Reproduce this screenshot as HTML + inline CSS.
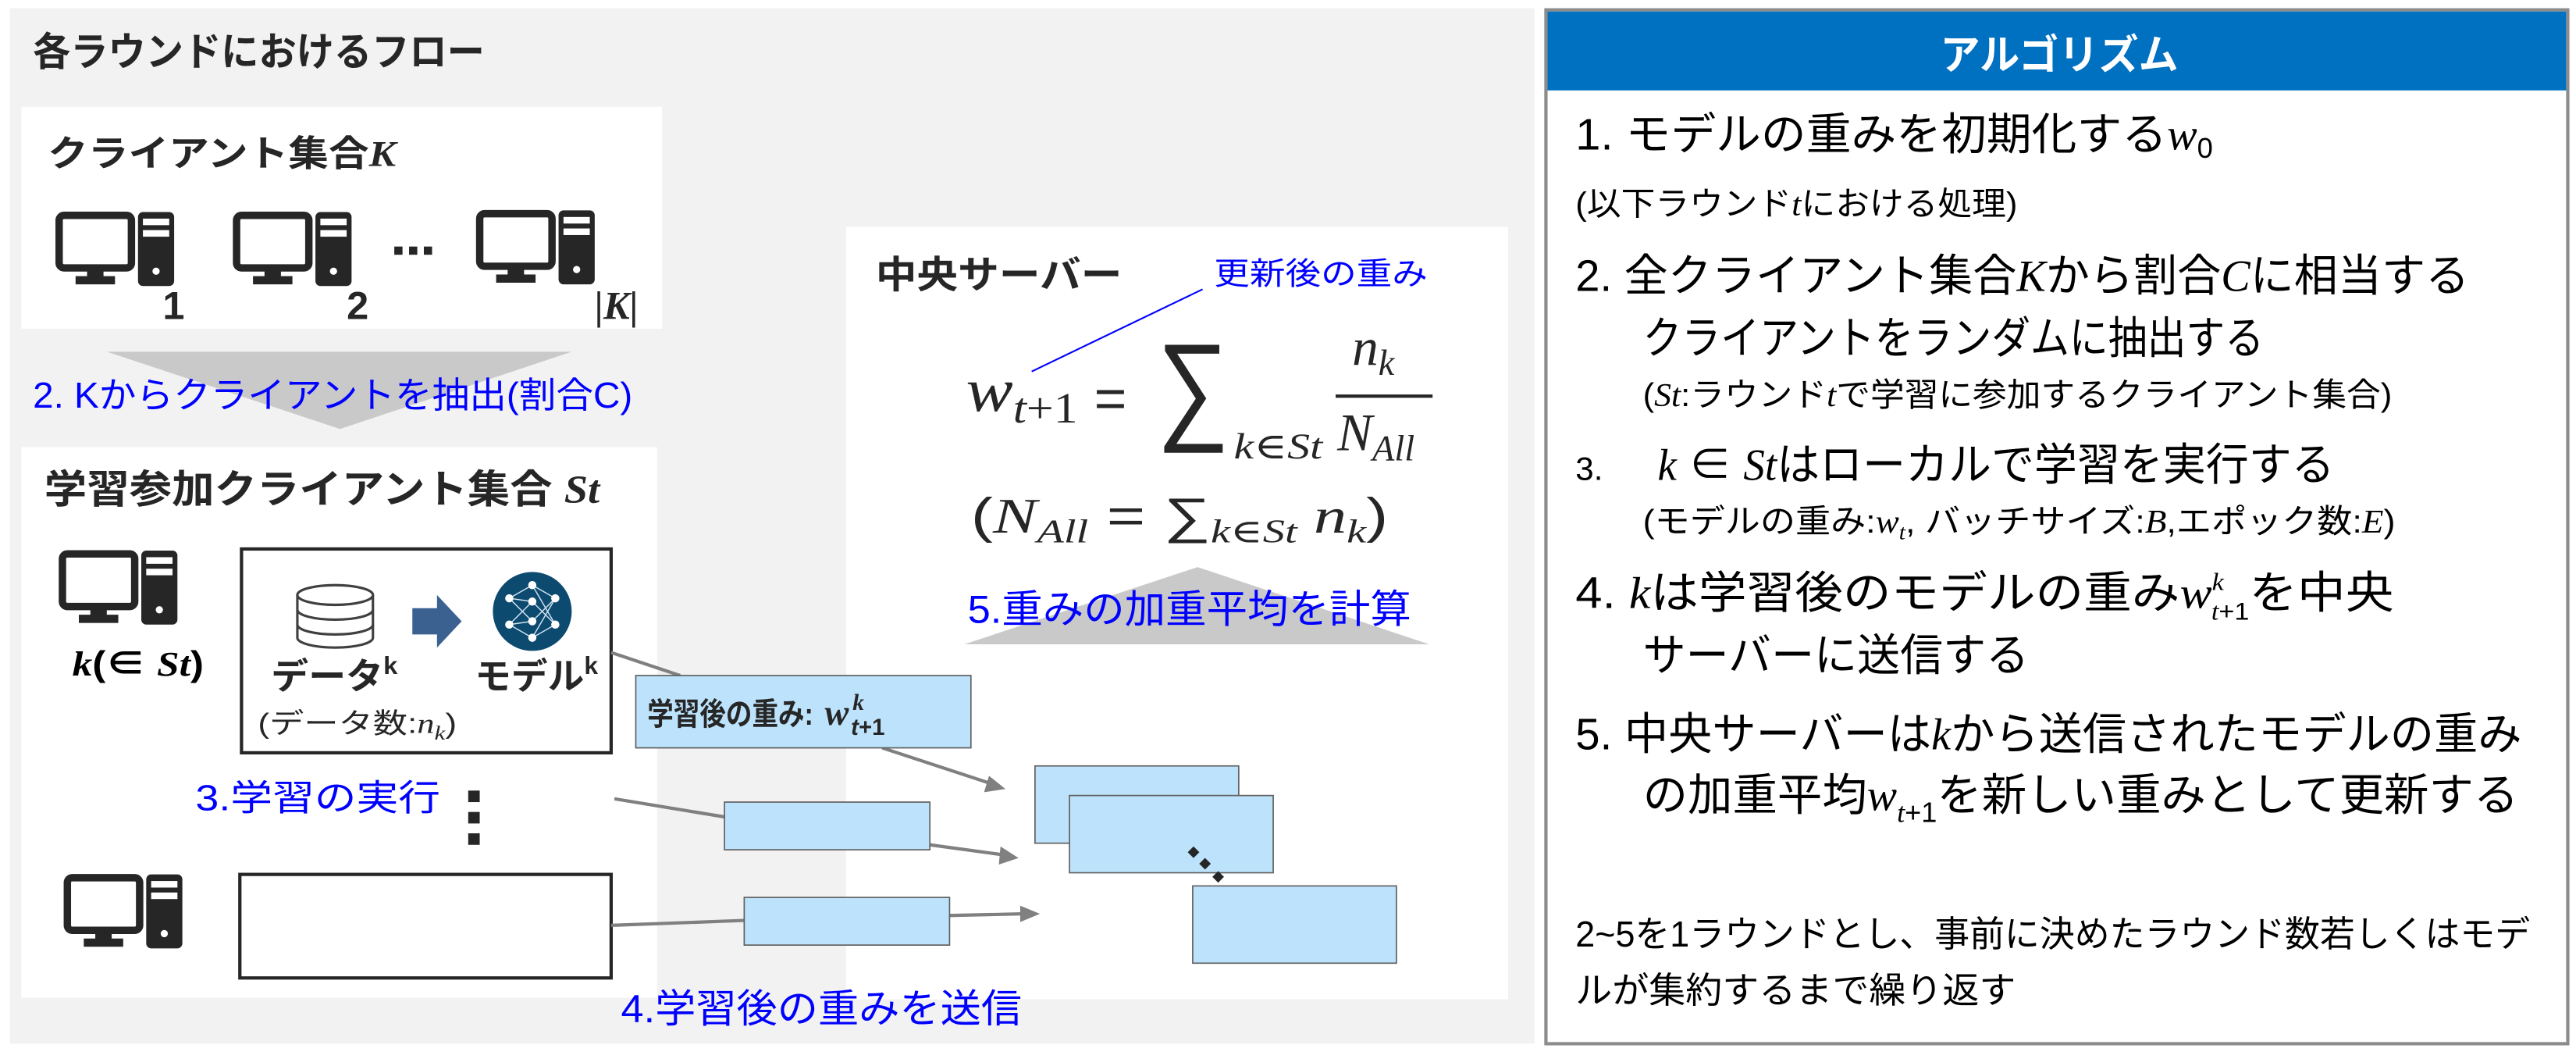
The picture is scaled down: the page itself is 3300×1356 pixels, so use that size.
<!DOCTYPE html>
<html><head><meta charset="utf-8"><style>
html,body{margin:0;padding:0;background:#fff;}
svg{display:block;}
text{font-family:"Liberation Sans","Noto Sans CJK JP",sans-serif;}
.m{font-family:"Liberation Serif","DejaVu Serif",serif;font-style:italic;}
.b{fill:#0000ff;}
</style></head><body>
<svg width="3300" height="1356" viewBox="0 0 1568 644.3" xmlns="http://www.w3.org/2000/svg">
<defs>
<g id="pc">
<rect x="2" y="2" width="44" height="32" rx="3" fill="#fff" stroke="#262626" stroke-width="4.5"/>
<rect x="19" y="35" width="10" height="5" fill="#262626"/>
<rect x="12" y="39" width="24" height="5" fill="#262626"/>
<rect x="50" y="0" width="22" height="45" rx="3" fill="#262626"/>
<rect x="53" y="4" width="16" height="4" fill="#fff"/>
<rect x="53" y="11" width="16" height="4" fill="#fff"/>
<circle cx="61" cy="36" r="2.2" fill="#fff"/>
</g>
</defs>
<rect width="1568" height="644.3" fill="#fff"/>
<rect x="6" y="5" width="928" height="630" fill="#f2f2f2"/>
<text x="20" y="40" font-size="24" font-weight="700" fill="#262626" textLength="275" lengthAdjust="spacingAndGlyphs">各ラウンドにおけるフロー</text>
<rect x="13" y="65" width="390" height="135" fill="#fff"/>
<text x="29" y="101" font-size="22" font-weight="700" fill="#262626" textLength="212" lengthAdjust="spacingAndGlyphs">クライアント集合<tspan class="m" font-weight="700">K</tspan></text>
<use href="#pc" x="34" y="129"/>
<use href="#pc" x="142" y="129"/>
<use href="#pc" x="290" y="128"/>
<rect x="240" y="150" width="5" height="5" fill="#262626"/><rect x="249" y="150" width="5" height="5" fill="#262626"/><rect x="258" y="150" width="5" height="5" fill="#262626"/>
<text x="99" y="194" font-size="24" font-weight="700" font-family="Liberation Serif" fill="#262626">1</text>
<text x="211" y="194" font-size="24" font-weight="700" font-family="Liberation Serif" fill="#262626">2</text>
<text x="362" y="194" font-size="24" font-weight="700" class="m" fill="#262626">|K|</text>
<polygon points="65,214 348,214 207,261" fill="#c9c9c9"/>
<text x="20" y="248" font-size="22" class="b" textLength="365" lengthAdjust="spacingAndGlyphs">2. Kからクライアントを抽出(割合C)</text>
<rect x="13" y="272" width="387" height="335" fill="#fff"/>
<text x="27" y="306" font-size="24" font-weight="700" fill="#262626" textLength="338" lengthAdjust="spacingAndGlyphs">学習参加クライアント集合 <tspan class="m">St</tspan></text>
<use href="#pc" x="36" y="335"/>
<text x="44" y="411" font-size="21" font-weight="700" fill="#000" textLength="80" lengthAdjust="spacingAndGlyphs"><tspan class="m">k</tspan>(∈ <tspan class="m">St</tspan>)</text>
<rect x="147" y="334" width="225" height="124" fill="#fff" stroke="#262626" stroke-width="2"/>
<g fill="#fff" stroke="#404040" stroke-width="1.5">
<path d="M181,362 v26 a23,6 0 0 0 46,0 v-26"/>
<ellipse cx="204" cy="362" rx="23" ry="6"/>
<path d="M181,371 a23,6 0 0 0 46,0" fill="none"/>
<path d="M181,380 a23,6 0 0 0 46,0" fill="none"/>
</g>
<polygon points="251,370 266,370 266,362 281,378 266,394 266,386 251,386" fill="#3a6190"/>
<circle cx="324" cy="372" r="24" fill="#0d4a70"/>
<g stroke="#cfe3f0" stroke-width="0.7">
<line x1="310" y1="364" x2="324" y2="356"/><line x1="310" y1="364" x2="324" y2="366"/><line x1="310" y1="364" x2="324" y2="378"/><line x1="310" y1="380" x2="324" y2="366"/><line x1="310" y1="380" x2="324" y2="378"/><line x1="310" y1="380" x2="324" y2="388"/>
<line x1="338" y1="364" x2="324" y2="356"/><line x1="338" y1="364" x2="324" y2="378"/><line x1="338" y1="380" x2="324" y2="366"/><line x1="338" y1="380" x2="324" y2="388"/><line x1="338" y1="364" x2="324" y2="388"/><line x1="338" y1="380" x2="324" y2="356"/>
</g>
<g fill="#fff"><circle cx="310" cy="364" r="2.5"/><circle cx="310" cy="380" r="2.5"/><circle cx="338" cy="364" r="2.5"/><circle cx="338" cy="380" r="2.5"/><circle cx="324" cy="356" r="2.5"/><circle cx="324" cy="366" r="2.5"/><circle cx="324" cy="378" r="2.5"/><circle cx="324" cy="388" r="2.5"/></g>
<text x="165" y="419" font-size="22" font-weight="700" fill="#262626" textLength="77" lengthAdjust="spacingAndGlyphs">データ<tspan font-size="15" dy="-9">k</tspan></text>
<text x="289" y="419" font-size="22" font-weight="700" fill="#262626" textLength="75" lengthAdjust="spacingAndGlyphs">モデル<tspan font-size="15" dy="-9">k</tspan></text>
<text x="157" y="446" font-size="17" fill="#262626" textLength="121" lengthAdjust="spacingAndGlyphs">(データ数:<tspan class="m">n</tspan><tspan class="m" font-size="12" dy="4">k</tspan><tspan dy="-4">)</tspan></text>
<text x="119" y="493" font-size="22" class="b" textLength="149" lengthAdjust="spacingAndGlyphs">3.学習の実行</text>
<rect x="285" y="481" width="7" height="7" fill="#262626"/><rect x="285" y="494" width="7" height="7" fill="#262626"/><rect x="285" y="507" width="7" height="7" fill="#262626"/>
<use href="#pc" x="39" y="532"/>
<rect x="146" y="532" width="226" height="63" fill="#fff" stroke="#262626" stroke-width="2"/>
<rect x="515" y="138" width="403" height="470" fill="#fff"/>
<text x="533" y="175" font-size="23" font-weight="700" fill="#262626" textLength="150" lengthAdjust="spacingAndGlyphs">中央サーバー</text>
<text x="739" y="173" font-size="19" class="b" textLength="130" lengthAdjust="spacingAndGlyphs">更新後の重み</text>
<line x1="732" y1="176" x2="628" y2="226" stroke="#0000ff" stroke-width="1"/>
<text x="588" y="250" font-size="38" class="m" fill="#262626" textLength="68" lengthAdjust="spacingAndGlyphs">w<tspan font-size="26" dy="7">t</tspan><tspan font-size="26" font-style="normal">+1</tspan></text>
<text x="666" y="254" font-size="34" fill="#262626" font-family="Liberation Serif">=</text>
<text transform="translate(704,260) scale(0.85,1)" font-size="73" fill="#262626" font-family="DejaVu Sans">∑</text>
<text x="751" y="279" font-size="22" class="m" fill="#262626" textLength="54" lengthAdjust="spacingAndGlyphs">k∈St</text>
<text x="823" y="222" font-size="32" class="m" fill="#262626">n<tspan font-size="22" dy="6">k</tspan></text>
<line x1="813" y1="241" x2="872" y2="241" stroke="#262626" stroke-width="2"/>
<text x="814" y="274" font-size="32" class="m" fill="#262626">N<tspan font-size="22" dy="6">All</tspan></text>
<text x="591" y="324" font-size="30" fill="#262626" font-family="Liberation Serif" textLength="254" lengthAdjust="spacingAndGlyphs">(<tspan class="m">N</tspan><tspan class="m" font-size="20" dy="6">All</tspan><tspan dy="-6"> = ∑</tspan><tspan class="m" font-size="20" dy="6">k∈St</tspan><tspan class="m" dy="-6"> n</tspan><tspan class="m" font-size="20" dy="6">k</tspan><tspan dy="-6">)</tspan></text>
<polygon points="729,345 870,392 587,392" fill="#c9c9c9"/>
<text x="589" y="379" font-size="24" class="b" textLength="270" lengthAdjust="spacingAndGlyphs">5.重みの加重平均を計算</text>
<g stroke="#808080" stroke-width="2" fill="none">
<line x1="372" y1="397" x2="414" y2="411"/>
<line x1="537" y1="455" x2="604" y2="477"/>
<line x1="374" y1="486" x2="441" y2="497"/>
<line x1="566" y1="514" x2="610" y2="520"/>
<line x1="372" y1="563" x2="453" y2="560"/>
<line x1="578" y1="557" x2="622" y2="556"/>
</g>
<g fill="#808080">
<polygon points="612,480 599,482 602,472"/>
<polygon points="620,522 608,526 609,515"/>
<polygon points="633,556 621,561 621,551"/>
</g>
<rect x="387" y="411" width="204" height="44" fill="#bde3fc" stroke="#606060" stroke-width="0.8"/>
<text x="394" y="441" font-size="19" font-weight="700" fill="#262626" textLength="101" lengthAdjust="spacingAndGlyphs">学習後の重み:</text>
<text x="502" y="441" font-size="22" font-weight="700" class="m" fill="#262626">w</text>
<text x="519" y="432" font-size="14" font-weight="700" class="m" fill="#262626">k</text>
<text x="518" y="447" font-size="14" font-weight="700" fill="#262626" font-family="Liberation Serif"><tspan font-style="italic">t</tspan>+1</text>
<rect x="441" y="488" width="125" height="29" fill="#bde3fc" stroke="#606060" stroke-width="0.8"/>
<rect x="453" y="546" width="125" height="29" fill="#bde3fc" stroke="#606060" stroke-width="0.8"/>
<rect x="630" y="466" width="124" height="47" fill="#bde3fc" stroke="#606060" stroke-width="0.8"/>
<rect x="651" y="484" width="124" height="47" fill="#bde3fc" stroke="#606060" stroke-width="0.8"/>
<rect x="726" y="539" width="124" height="47" fill="#bde3fc" stroke="#606060" stroke-width="0.8"/>
<g fill="#262626"><rect x="724" y="516" width="5" height="5" transform="rotate(45 726.5 518.5)"/><rect x="731" y="523" width="5" height="5" transform="rotate(45 733.5 525.5)"/><rect x="739" y="531" width="5" height="5" transform="rotate(45 741.5 533.5)"/></g>
<text x="378" y="622" font-size="24" class="b" textLength="244" lengthAdjust="spacingAndGlyphs">4.学習後の重みを送信</text>
<rect x="941" y="6" width="622" height="629" fill="#fff" stroke="#8c8c8c" stroke-width="2"/>
<rect x="942" y="7" width="620" height="48" fill="#0070c0"/>
<text x="1181" y="42" font-size="25" font-weight="700" fill="#fff" textLength="145" lengthAdjust="spacingAndGlyphs">アルゴリズム</text>
<g fill="#000">
<text x="959" y="91" font-size="27" textLength="388" lengthAdjust="spacingAndGlyphs">1. モデルの重みを初期化する<tspan class="m">w</tspan><tspan font-size="17" dy="5">0</tspan></text>
<text x="959" y="131" font-size="20" textLength="269" lengthAdjust="spacingAndGlyphs">(以下ラウンド<tspan class="m">t</tspan>における処理)</text>
<text x="959" y="177" font-size="27" textLength="544" lengthAdjust="spacingAndGlyphs">2. 全クライアント集合<tspan class="m">K</tspan>から割合<tspan class="m">C</tspan>に相当する</text>
<text x="1000" y="215" font-size="27" textLength="378" lengthAdjust="spacingAndGlyphs">クライアントをランダムに抽出する</text>
<text x="1000" y="247" font-size="20" textLength="456" lengthAdjust="spacingAndGlyphs">(<tspan class="m">St</tspan>:ラウンド<tspan class="m">t</tspan>で学習に参加するクライアント集合)</text>
<text x="959" y="292" font-size="20">3.</text>
<text x="1009" y="292" font-size="27" textLength="412" lengthAdjust="spacingAndGlyphs"><tspan class="m">k</tspan> ∈ <tspan class="m">St</tspan>はローカルで学習を実行する</text>
<text x="1000" y="324" font-size="20" textLength="458" lengthAdjust="spacingAndGlyphs">(モデルの重み:<tspan class="m">w</tspan><tspan class="m" font-size="13" dy="4">t</tspan><tspan dy="-4">, バッチサイズ:</tspan><tspan class="m">B</tspan>,エポック数:<tspan class="m">E</tspan>)</text>
<text x="959" y="370" font-size="27" textLength="498" lengthAdjust="spacingAndGlyphs">4.  <tspan class="m">k</tspan>は学習後のモデルの重み<tspan class="m">w</tspan><tspan class="m" font-size="15" dy="-11">k</tspan><tspan font-size="15" dx="-7" dy="18"><tspan class="m">t</tspan>+1</tspan><tspan dy="-7">を中央</tspan></text>
<text x="1000" y="408" font-size="27" textLength="235" lengthAdjust="spacingAndGlyphs">サーバーに送信する</text>
<text x="959" y="456" font-size="27" textLength="576" lengthAdjust="spacingAndGlyphs">5. 中央サーバーは<tspan class="m">k</tspan>から送信されたモデルの重み</text>
<text x="1000" y="493" font-size="27" textLength="533" lengthAdjust="spacingAndGlyphs">の加重平均<tspan class="m">w</tspan><tspan font-size="17" dy="7"><tspan class="m">t</tspan>+1</tspan><tspan dy="-7">を新しい重みとして更新する</tspan></text>
<text x="959" y="576" font-size="22" textLength="581" lengthAdjust="spacingAndGlyphs">2~5を1ラウンドとし、事前に決めたラウンド数若しくはモデ</text>
<text x="959" y="610" font-size="22" textLength="268" lengthAdjust="spacingAndGlyphs">ルが集約するまで繰り返す</text>
</g>
</svg>
</body></html>
